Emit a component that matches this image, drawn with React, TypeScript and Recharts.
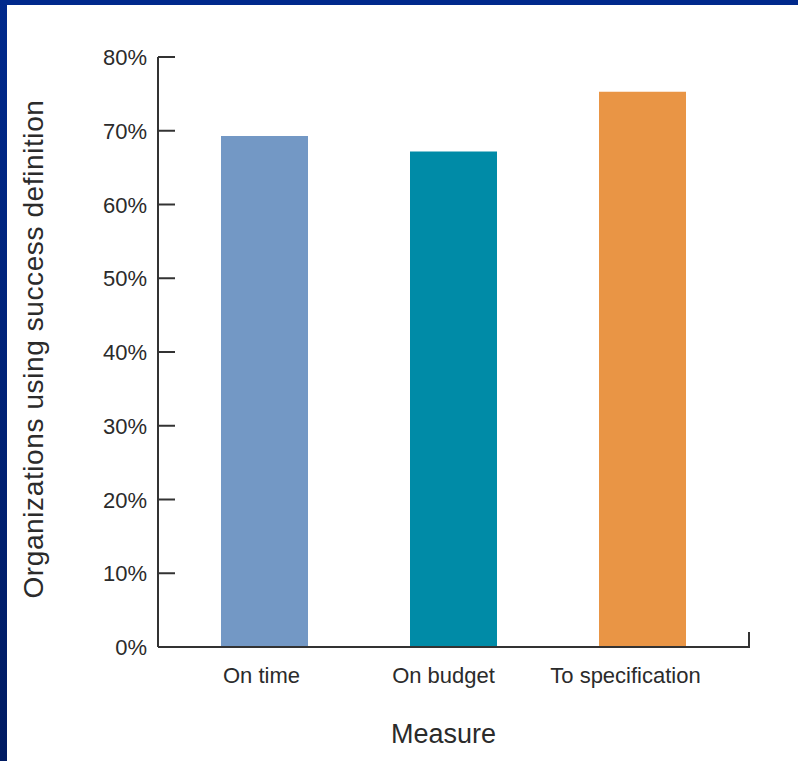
import React from 'react';
import { ComposedChart, Bar, Line, XAxis, YAxis, Cell, Label } from 'recharts';

const categories = ['On time', 'On budget', 'To specification'];
const values = [69.3, 67.2, 75.3];
const yTicks = [0, 10, 20, 30, 40, 50, 60, 70, 80];
const tickLabels = ['0%', '10%', '20%', '30%', '40%', '50%', '60%', '70%', '80%'];

const COLORS = ['#7398C5', '#008BA7', '#E99545'];
const FONT = '"Liberation Sans", Arial, Helvetica, sans-serif';
const AXIS = '#333333';

const data = categories.map((c, i) => ({ name: c, value: values[i] }));

const YTick = (props: any) => {
  const { x, y, payload, index } = props;
  const axisX = x + 11;
  return (
    <g>
      {payload.value > 0 && (
        <line x1={axisX} y1={y} x2={axisX + 17} y2={y} stroke={AXIS} strokeWidth={2} />
      )}
      <text x={x} y={y + 8} textAnchor="end" fontFamily={FONT} fontSize={22} fill="#2b2b2b">
        {tickLabels[yTicks.indexOf(payload.value)] ?? tickLabels[index]}
      </text>
    </g>
  );
};

const EndTick = (props: any) => {
  const { x, y, payload } = props;
  if (payload.value !== 0) return <g />;
  return <line x1={x} y1={y + 1} x2={x} y2={y - 15} stroke={AXIS} strokeWidth={2} />;
};

const XTick = (props: any) => {
  const { x, y, payload, index } = props;
  return (
    <text x={x - 3 - 7 * index} y={y + 26} textAnchor="middle" fontFamily={FONT} fontSize={22} fill="#2b2b2b">
      {payload.value}
    </text>
  );
};

export default function App() {
  return (
    <div style={{ position: 'relative', width: 798, height: 761, background: '#ffffff', overflow: 'hidden' }}>
      <style>{'body{margin:0;}'}</style>
      <div style={{ position: 'absolute', left: 0, top: 0, width: 798, height: 5, background: '#00298C' }} />
      <div
        style={{
          position: 'absolute',
          left: 0,
          top: 0,
          width: 7,
          height: 761,
          background: 'linear-gradient(#00298C, #001B62)',
        }}
      />
      <div style={{ position: 'absolute', left: 0, top: 0 }}>
        <ComposedChart width={798} height={761} data={data} margin={{ top: 57, right: 48, left: 0, bottom: 0 }}>
          <XAxis
            dataKey="name"
            height={114}
            padding={{ left: 12, right: 12 }}
            axisLine={{ stroke: AXIS, strokeWidth: 2 }}
            tickLine={false}
            tickSize={0}
            tickMargin={10}
            tick={<XTick />}
            interval={0}
          >
            <Label
              content={(p: any) => {
                const vb = p.viewBox;
                return (
                  <text
                    x={vb.x + vb.width / 2 - 10}
                    y={vb.y + 96}
                    textAnchor="middle"
                    fontFamily={FONT}
                    fontSize={27}
                    fill="#2b2b2b"
                  >
                    Measure
                  </text>
                );
              }}
            />
          </XAxis>
          <YAxis
            width={158}
            domain={[0, 80]}
            ticks={yTicks}
            interval={0}
            axisLine={{ stroke: AXIS, strokeWidth: 2 }}
            tickLine={false}
            tickSize={0}
            tickMargin={11}
            tick={<YTick />}
          >
            <Label
              content={(p: any) => {
                const vb = p.viewBox;
                const cx = 43;
                const cy = vb.y + vb.height / 2 - 3;
                return (
                  <text
                    x={cx}
                    y={cy}
                    transform={`rotate(-90, ${cx}, ${cy})`}
                    textAnchor="middle"
                    fontFamily={FONT}
                    fontSize={28}
                    letterSpacing={0.6}
                    fill="#2b2b2b"
                  >
                    Organizations using success definition
                  </text>
                );
              }}
            />
          </YAxis>
          <YAxis
            yAxisId="r"
            orientation="right"
            width={1}
            domain={[0, 80]}
            ticks={yTicks}
            interval={0}
            axisLine={false}
            tickLine={false}
            tickSize={0}
            tickMargin={0}
            tick={<EndTick />}
          />
          <Bar dataKey="value" barSize={87} isAnimationActive={false}>
            {data.map((d, i) => (
              <Cell key={d.name} fill={COLORS[i]} />
            ))}
          </Bar>
          <Line
            yAxisId="r"
            dataKey="value"
            stroke="none"
            dot={false}
            activeDot={false}
            legendType="none"
            isAnimationActive={false}
          />
        </ComposedChart>
      </div>
    </div>
  );
}
